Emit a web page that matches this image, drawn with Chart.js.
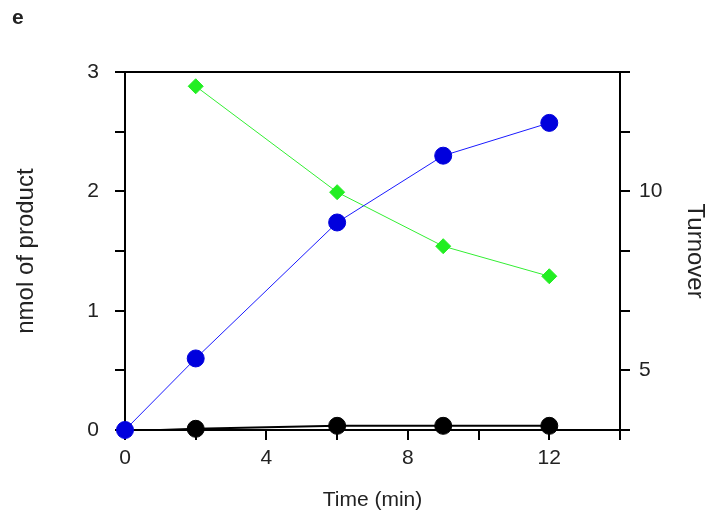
<!DOCTYPE html>
<html>
<head>
<meta charset="utf-8">
<script src="https://cdn.jsdelivr.net/npm/chart.js@4.4.0/dist/chart.umd.min.js"></script>
<style>
  html, body { margin: 0; padding: 0; background: #fff; }
  #wrap { width: 716px; height: 525px; }
</style>
</head>
<body>
<div id="wrap"><canvas id="chart" width="716" height="525"></canvas></div>
<script>
// data
const times = [0, 2, 6, 9, 12];
const productNmol = [0, 0.60, 1.74, 2.30, 2.575];

const turnoverTimes = [2, 6, 9, 12];
const turnover = [12.94, 9.98, 8.47, 7.63];

const controlTimes = [1, 2, 6, 9, 12];
const controlNmol = [0, 0.01, 0.035, 0.035, 0.035];

const yRightTicks = [10 / 3, 5, 20 / 3, 25 / 3, 10, 35 / 3, 40 / 3];
const yRightLabels = [5, 10];

const toPoints = (xs, ys) => xs.map((x, i) => ({ x: x, y: ys[i] }));

const font = { family: '"Liberation Sans", Arial, sans-serif', size: 21 };
const titleFont = { family: '"Liberation Sans", Arial, sans-serif', size: 24 };
const ink = '#222';

const ctx = document.getElementById('chart').getContext('2d');

new Chart(ctx, {
  type: 'line',
  data: {
    datasets: [
      {
        label: 'Product',
        data: toPoints(times, productNmol),
        yAxisID: 'y',
        borderColor: '#1a1aff',
        borderWidth: 1,
        backgroundColor: '#0000dd',
        pointBackgroundColor: '#0000dd',
        pointBorderColor: '#0000dd',
        pointRadius: 8.5,
        pointBorderWidth: 1,
        clip: false
      },
      {
        label: 'Turnover',
        data: toPoints(turnoverTimes, turnover),
        yAxisID: 'y2',
        borderColor: '#33ee33',
        borderWidth: 1,
        pointStyle: 'rectRot',
        pointBackgroundColor: '#22ee22',
        pointBorderColor: '#22ee22',
        pointRadius: 7.5,
        pointBorderWidth: 1,
        clip: false
      },
      {
        label: 'Control',
        data: toPoints(controlTimes, controlNmol),
        yAxisID: 'y',
        borderColor: '#000',
        borderWidth: 2,
        pointBackgroundColor: '#000',
        pointBorderColor: '#000',
        pointRadius: [0, 8.5, 8.5, 8.5, 8.5],
        pointBorderWidth: 1,
        clip: false
      }
    ]
  },
  options: {
    responsive: false,
    animation: false,
    layout: { padding: { top: 6, left: 12, right: 0, bottom: 0 } },
    plugins: {
      legend: { display: false },
      tooltip: { enabled: false },
      title: {
        display: true,
        text: 'e',
        align: 'start',
        color: ink,
        font: { family: titleFont.family, size: 21, weight: 'bold' },
        padding: { top: 0, bottom: 41 }
      }
    },
    scales: {
      x: {
        type: 'linear',
        position: 'bottom',
        min: 0,
        max: 14,
        afterFit: s => { s.height = 95; },
        border: { color: '#000', width: 2 },
        grid: { drawOnChartArea: false, color: '#000', lineWidth: 2, tickLength: 10 },
        ticks: {
          stepSize: 2,
          autoSkip: false,
          maxRotation: 0,
          padding: 6,
          color: ink,
          font: font,
          callback: v => (v % 4 === 0 ? v : '')
        },
        title: {
          display: true,
          text: 'Time (min)',
          color: ink,
          font: font,
          padding: { top: 0, bottom: 12 }
        }
      },
      xTop: {
        type: 'linear',
        position: 'top',
        min: 0,
        max: 14,
        afterFit: s => { s.height = 0; },
        border: { display: true, color: '#000', width: 2 },
        grid: { display: false },
        ticks: { display: false }
      },
      y: {
        type: 'linear',
        position: 'left',
        min: 0,
        max: 3,
        afterFit: s => { s.width = 113; },
        border: { color: '#000', width: 2 },
        grid: { drawOnChartArea: false, color: '#000', lineWidth: 2, tickLength: 10 },
        ticks: {
          stepSize: 0.5,
          autoSkip: false,
          padding: 16,
          color: ink,
          font: font,
          callback: v => (Number.isInteger(v) ? v : '')
        },
        title: {
          display: true,
          text: 'nmol of product',
          color: ink,
          font: titleFont,
          padding: { top: 0, bottom: 0 }
        }
      },
      y2: {
        type: 'linear',
        position: 'right',
        min: yRightTicks[0],
        max: yRightTicks[yRightTicks.length - 1],
        afterFit: s => { s.width = 96; },
        afterBuildTicks: s => { s.ticks = yRightTicks.map(v => ({ value: v })); },
        border: { color: '#000', width: 2 },
        grid: { drawOnChartArea: false, color: '#000', lineWidth: 2, tickLength: 10 },
        ticks: {
          autoSkip: false,
          padding: 9,
          color: ink,
          font: font,
          callback: v => (yRightLabels.includes(v) ? v : '')
        },
        title: {
          display: true,
          text: 'Turnover',
          color: ink,
          font: titleFont,
          padding: { top: 7, bottom: 0 }
        }
      }
    }
  }
});
</script>
</body>
</html>
